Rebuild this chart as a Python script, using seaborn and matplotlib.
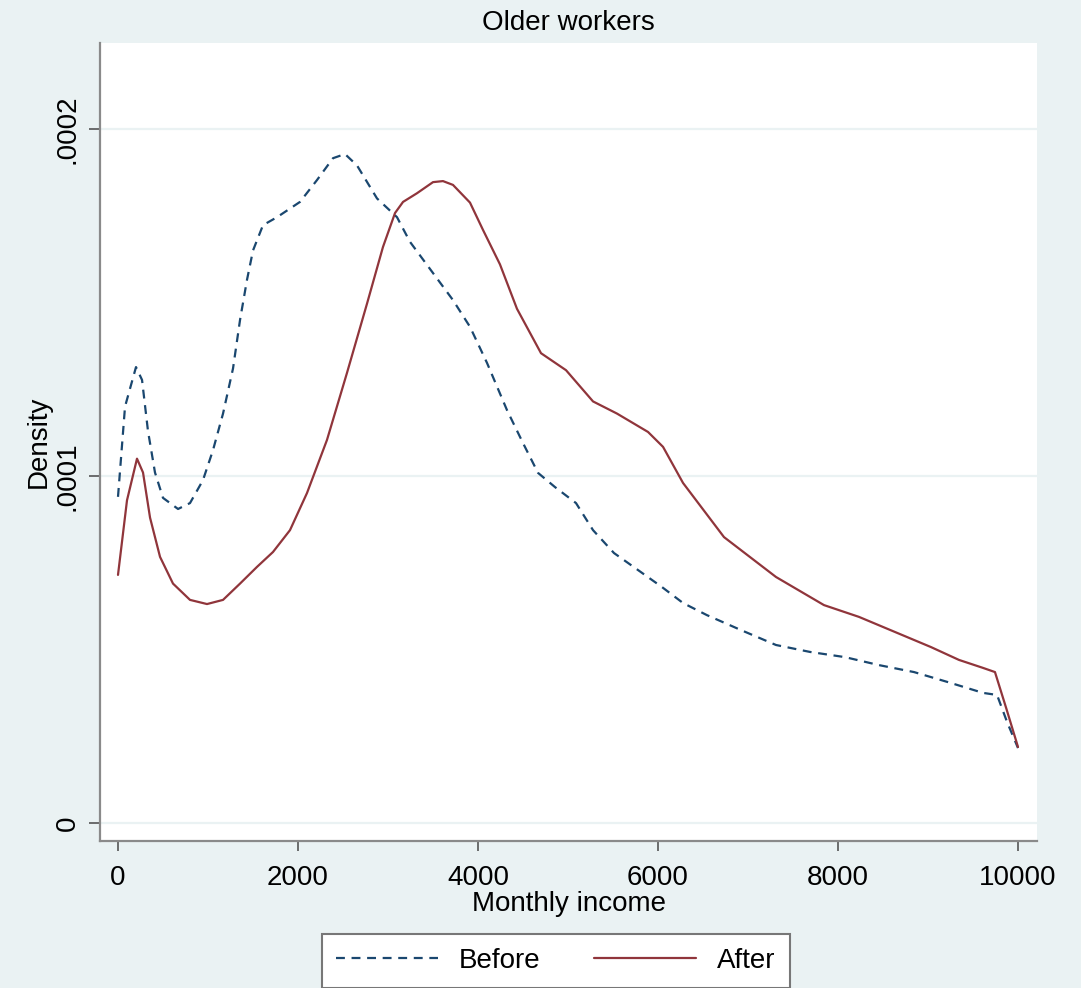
import numpy as np
import pandas as pd
import matplotlib
matplotlib.use("Agg")
import matplotlib.pyplot as plt
import seaborn as sns
from matplotlib.ticker import FixedLocator, FixedFormatter

# ---- data (density values) ----
before_income = [0, 78, 200, 267, 333, 411, 500, 667, 800, 944, 1056, 1167, 1278, 1356,
                 1433, 1500, 1611, 1767, 2022, 2211, 2389, 2522, 2656, 2878, 3100, 3244,
                 3500, 3722, 3911, 4100, 4322, 4500, 4667, 4856, 5089, 5278, 5511, 5778,
                 6044, 6278, 6544, 6922, 7311, 7689, 8078, 8456, 8844, 9222, 9611, 9767,
                 9880, 10000]
before_density = [9.4e-5, 1.20e-4, 1.314e-4, 1.277e-4, 1.13e-4, 1.01e-4, 9.37e-5, 9.05e-5,
                  9.22e-5, 9.88e-5, 1.075e-4, 1.18e-4, 1.31e-4, 1.45e-4, 1.565e-4, 1.65e-4,
                  1.723e-4, 1.746e-4, 1.79e-4, 1.853e-4, 1.916e-4, 1.928e-4, 1.895e-4,
                  1.80e-4, 1.746e-4, 1.675e-4, 1.585e-4, 1.507e-4, 1.43e-4, 1.326e-4,
                  1.19e-4, 1.095e-4, 1.009e-4, 9.68e-5, 9.22e-5, 8.44e-5, 7.78e-5, 7.29e-5,
                  6.8e-5, 6.34e-5, 5.99e-5, 5.56e-5, 5.13e-5, 4.93e-5, 4.78e-5, 4.55e-5,
                  4.35e-5, 4.06e-5, 3.75e-5, 3.69e-5, 2.9e-5, 2.16e-5]

after_income = [0, 100, 211, 278, 356, 467, 611, 800, 989, 1167, 1356, 1544, 1722, 1911,
                2100, 2322, 2544, 2767, 2944, 3078, 3167, 3322, 3500, 3611, 3722, 3911,
                4056, 4244, 4433, 4700, 4978, 5278, 5544, 5889, 6056, 6278, 6733, 7311,
                7844, 8233, 8656, 9033, 9344, 9611, 9744, 9870, 10000]
after_density = [7.15e-5, 9.3e-5, 1.05e-4, 1.01e-4, 8.8e-5, 7.67e-5, 6.9e-5, 6.43e-5,
                 6.31e-5, 6.43e-5, 6.9e-5, 7.38e-5, 7.81e-5, 8.44e-5, 9.51e-5, 1.104e-4,
                 1.297e-4, 1.497e-4, 1.66e-4, 1.758e-4, 1.79e-4, 1.815e-4, 1.847e-4,
                 1.85e-4, 1.839e-4, 1.788e-4, 1.709e-4, 1.61e-4, 1.482e-4, 1.354e-4,
                 1.305e-4, 1.215e-4, 1.18e-4, 1.127e-4, 1.084e-4, 9.8e-5, 8.24e-5, 7.09e-5,
                 6.28e-5, 5.94e-5, 5.48e-5, 5.07e-5, 4.70e-5, 4.47e-5, 4.35e-5, 3.3e-5,
                 2.19e-5]

series_labels = ["Before", "After"]
x_ticks = [0, 2000, 4000, 6000, 8000, 10000]
x_tick_labels = ["0", "2000", "4000", "6000", "8000", "10000"]
y_ticks = [0, 0.0001, 0.0002]
y_tick_labels = ["0", ".0001", ".0002"]

# ---- style ----
BG = "#EAF2F3"
NAVY = "#1a476f"
MAROON = "#90353b"
AXC = "#8a8a8a"

sns.set_theme(style="white")
plt.rcParams['font.family'] = ['Liberation Sans', 'DejaVu Sans']
plt.rcParams['text.color'] = 'black'
plt.rcParams['axes.labelcolor'] = 'black'
plt.rcParams['xtick.color'] = 'black'
plt.rcParams['ytick.color'] = 'black'

df = pd.concat([
    pd.DataFrame({"income": before_income, "density": before_density, "period": series_labels[0]}),
    pd.DataFrame({"income": after_income, "density": after_density, "period": series_labels[1]}),
])

fig = plt.figure(figsize=(10.81, 9.88), dpi=100, facecolor=BG)
ax = fig.add_axes([100/1081, 147/988, 937/1081, 798/988])
ax.set_facecolor("white")

# gridlines
for yv in y_ticks:
    ax.axhline(yv, color=BG, lw=1.6, zorder=0)

sns.lineplot(data=df[df.period == "Before"], x="income", y="density", ax=ax,
             color=NAVY, lw=1.6, sort=False, estimator=None, label="Before")
sns.lineplot(data=df[df.period == "After"], x="income", y="density", ax=ax,
             color=MAROON, lw=1.6, sort=False, estimator=None, label="After")
line_before, line_after = ax.lines[-2], ax.lines[-1]
line_before.set_dashes((4, 3))
for ln in (line_before, line_after):
    ln.set_solid_joinstyle("round")
    ln.set_dash_joinstyle("round")

ax.set_xlim(-200, 10211)
ax.set_ylim(-5.19e-6, 2.248e-4)

ax.xaxis.set_major_locator(FixedLocator(x_ticks))
ax.xaxis.set_major_formatter(FixedFormatter(x_tick_labels))
ax.yaxis.set_major_locator(FixedLocator(y_ticks))
ax.yaxis.set_major_formatter(FixedFormatter(y_tick_labels))

for s in ["top", "right"]:
    ax.spines[s].set_visible(False)
for s in ["left", "bottom"]:
    ax.spines[s].set_visible(True)
    ax.spines[s].set_color(AXC)
    ax.spines[s].set_linewidth(1.6)

ax.tick_params(axis="x", direction="out", length=7, width=1.2, color="#555555",
               labelsize=20, pad=10, labelcolor="black", bottom=True)
ax.tick_params(axis="y", direction="out", length=8, width=1.2, color="#555555",
               labelsize=20, pad=6, labelcolor="black", left=True)
for lab in ax.get_yticklabels():
    lab.set_rotation(90)
    lab.set_va("center")

ax.set_xlabel("Monthly income", fontsize=20, labelpad=0, color="black")
ax.set_ylabel("Density", fontsize=20, labelpad=2, color="black")
ax.set_title("Older workers", fontsize=20, pad=9, color="black")

ax.get_legend().remove()
leg = fig.legend([line_before, line_after], series_labels, loc="lower center",
                 bbox_to_anchor=(0.514, -0.014),
                 ncol=2, fontsize=20, frameon=True, fancybox=False, handlelength=3.7,
                 handletextpad=0.75, columnspacing=1.9, borderpad=0.5, framealpha=1.0)
leg.get_frame().set_edgecolor("#777777")
leg.get_frame().set_linewidth(1.5)
leg.get_frame().set_facecolor("white")
for t in leg.get_texts():
    t.set_color("black")

fig.savefig("out.png", dpi=100, facecolor=BG)
